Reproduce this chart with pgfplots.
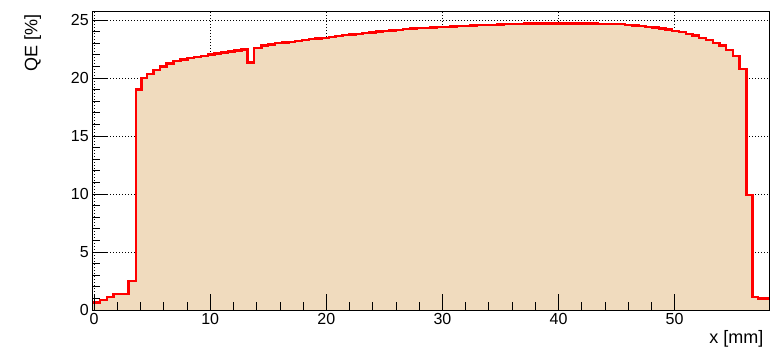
\documentclass[border=0pt]{standalone}
\usepackage{fontspec}
\setmainfont{Liberation Sans}
\usepackage{pgfplots}
\usepackage{pgfplotstable}
\pgfplotsset{compat=1.18}
\usetikzlibrary{calc}
\definecolor{histfill}{RGB}{240,219,190}

\pgfplotstableread{
x y
-0.16 0.65
0.50 0.85
1.08 1.10
1.66 1.35
2.24 1.40
2.95 2.50
3.58 19.0
4.08 20.0
4.56 20.35
5.10 20.7
5.68 21.0
6.24 21.25
6.84 21.45
7.44 21.6
8.04 21.72
8.62 21.82
9.20 21.92
9.78 22.02
10.36 22.12
10.94 22.2
11.52 22.3
12.10 22.38
12.68 22.45
13.20 21.35
13.78 22.6
14.42 22.8
15.00 22.9
15.58 23.0
16.16 23.07
16.74 23.12
17.32 23.2
17.90 23.28
18.48 23.34
19.06 23.4
19.64 23.47
20.22 23.55
20.80 23.62
21.38 23.7
21.96 23.75
22.54 23.82
23.12 23.88
23.70 23.93
24.28 24.0
24.86 24.05
25.44 24.1
26.02 24.16
26.60 24.2
27.18 24.26
27.76 24.3
28.34 24.33
28.92 24.37
29.50 24.4
30.08 24.42
30.66 24.45
31.24 24.47
31.82 24.5
32.40 24.52
32.98 24.55
33.56 24.57
34.14 24.6
34.72 24.62
35.30 24.64
35.88 24.66
36.46 24.68
37.04 24.7
37.62 24.7
38.20 24.71
38.78 24.71
39.36 24.71
39.94 24.71
40.52 24.71
41.10 24.7
41.68 24.7
42.26 24.7
42.84 24.69
43.42 24.68
44.00 24.67
44.58 24.66
45.16 24.64
45.74 24.6
46.32 24.52
46.90 24.48
47.48 24.4
48.06 24.36
48.64 24.28
49.22 24.18
49.80 24.08
50.38 23.95
50.96 23.8
51.54 23.66
52.12 23.48
52.70 23.3
53.28 23.05
53.86 22.8
54.44 22.4
55.02 21.9
55.60 20.8
56.18 9.9
56.70 1.15
57.20 1.0
58.13 1.0
}\qedata

\begin{document}
\begin{tikzpicture}
\pgfplotsset{commonax/.style={
  scale only axis, width=676.7pt, height=299pt,
  xmin=-0.16, xmax=58.13, ymin=0, ymax=25.78,
  xtick={0,10,...,50}, ytick={0,5,...,25},
}}
% background axis: grid + histogram
\begin{axis}[commonax,
  grid=major,
  major grid style={black, line width=0.8pt, dash pattern=on 0.8pt off 2.2pt},
  xticklabels={}, yticklabels={},
  major tick length=0pt, minor tick length=0pt,
  axis line style={draw=none},
]
\addplot[const plot, draw=none, fill=histfill] table[x=x,y=y] {\qedata} \closedcycle;
\addplot[const plot, draw=red, line width=2.3pt, line join=miter] table[x=x,y=y] {\qedata};
\end{axis}
% foreground axis: frame, ticks, labels
\begin{axis}[commonax,
  axis line style={black, line width=0.9pt},
  tick align=inside,
  xtick pos=left, ytick pos=left,
  minor x tick num=4, minor y tick num=4,
  major tick length=16pt, minor tick length=7.5pt,
  tick style={black, line width=0.8pt},
  /pgf/number format/assume math mode=true,
  ticklabel style={font=\fontsize{16}{16}\selectfont},
  xlabel={x [mm]}, ylabel={QE [\%]},
  every axis x label/.style={at={(rel axis cs:1,0)}, anchor=base east, xshift=-2pt, yshift=-33pt, font=\fontsize{18}{18}\selectfont},
  every axis y label/.style={at={(rel axis cs:0,1)}, rotate=90, anchor=base east, yshift=55pt, font=\fontsize{18}{18}\selectfont},
]
\end{axis}
\pgfresetboundingbox
\path[use as bounding box] ($(current axis.south west)+(-92.3pt,-38pt)$) rectangle ($(current axis.north east)+(1pt,11pt)$);
\end{tikzpicture}
\end{document}
